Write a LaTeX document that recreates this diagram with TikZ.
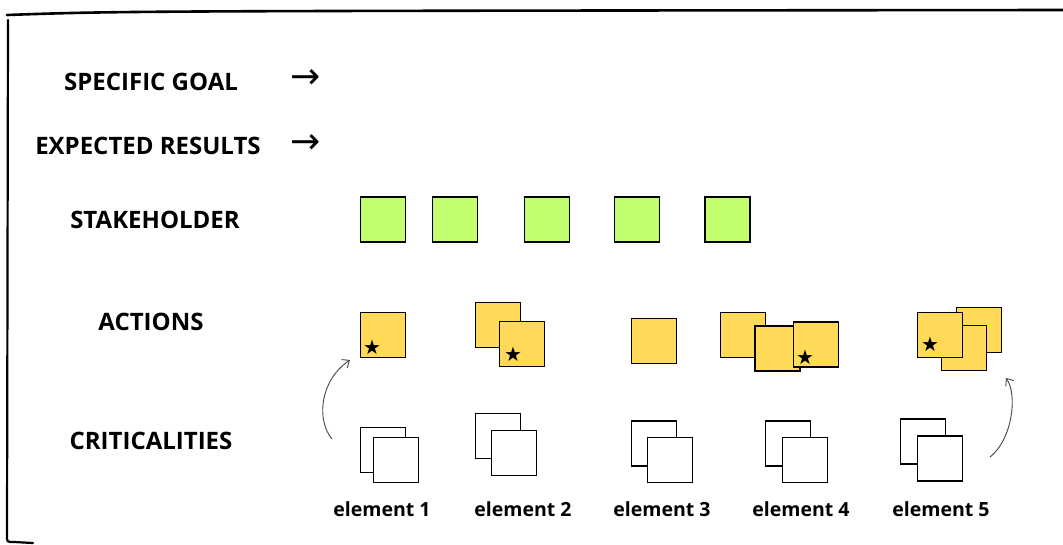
\documentclass[tikz,border=0pt]{standalone}
\usepackage{fontspec}
\setmainfont{Open Sans}
\newfontfamily\symfont{DejaVu Sans}
\usepackage{tikz}
\usetikzlibrary{arrows.meta}
\usepackage{xcolor}
\definecolor{stakegreen}{RGB}{193,255,110}
\definecolor{actyellow}{RGB}{255,218,89}
\definecolor{penline}{RGB}{70,70,70}
\tikzstyle{rowlabel} = [anchor=base, font=\fontsize{24}{28}\selectfont\bfseries]
\tikzstyle{elemlabel} = [anchor=base, font=\fontsize{19.5}{22}\selectfont\bfseries]
\tikzstyle{sq} = [rectangle, draw=black, line width=1.6pt, minimum size=45pt, inner sep=0pt]
\tikzstyle{stakebox} = [sq, fill=stakegreen]
\tikzstyle{actbox} = [sq, fill=actyellow]
\tikzstyle{critbox} = [sq, fill=white]
\tikzstyle{starmark} = [inner sep=0pt, font=\symfont\fontsize{20}{20}\selectfont]
\tikzstyle{pointer} = [inner sep=0pt, font=\symfont\fontsize{36}{36}\selectfont]
\tikzstyle{curvearrow} = [draw=penline, line width=0.9pt, -{Straight Barb[length=6pt,width=10pt]}]

\begin{document}
\begin{tikzpicture}[x=1pt, y=-1pt]

        \useasboundingbox (0,0) rectangle (1063,544);

        % frame
        \draw[line width=2.6pt, line cap=round] (7,15) .. controls (120,11) .. (1063,10);
        \draw[line width=2.2pt, line cap=round] (8,20) -- (7,536) .. controls (7,542) .. (14,542) -- (33,543);

        % row labels
        \node (goal) [rowlabel] at (151,90.7) {SPECIFIC GOAL};
        \node (results) [rowlabel] at (148,154.7) {EXPECTED RESULTS};
        \node (stake) [rowlabel] at (155,228.7) {STAKEHOLDER};
        \node (actions) [rowlabel] at (151,330.7) {ACTIONS};
        \node (crit) [rowlabel] at (151,449.7) {CRITICALITIES};

        \node (goalarrow) [pointer] at (306,79) {→};
        \node (resultsarrow) [pointer] at (306,144) {→};

        % stakeholders
        \node (st1) [stakebox] at (383,219.5) {};
        \node (st2) [stakebox] at (455,219.5) {};
        \node (st3) [stakebox] at (547,219.5) {};
        \node (st4) [stakebox] at (637,219.5) {};
        \node (st5) [stakebox] at (727.5,219.5) {};

        % actions
        \node (act1) [actbox] at (383,335) {};
        \node (star1) [starmark] at (372,347) {★};

        \node (act2a) [actbox] at (498,325) {};
        \node (act2b) [actbox] at (522,344) {};
        \node (star2) [starmark] at (513,354) {★};

        \node (act3) [actbox] at (654,341) {};

        \node (act4a) [actbox] at (743,335) {};
        \node (act4b) [actbox] at (777.5,348.5) {};
        \node (act4c) [actbox] at (816,344.5) {};
        \node (star4) [starmark] at (805,357) {★};

        \node (act5a) [actbox] at (979,330) {};
        \node (act5b) [actbox] at (964,348) {};
        \node (act5c) [actbox] at (940,335) {};
        \node (star5) [starmark] at (930,344) {★};

        % criticalities
        \node (cr1a) [critbox] at (383,450) {};
        \node (cr1b) [critbox] at (396,460) {};
        \node (cr2a) [critbox] at (498,436) {};
        \node (cr2b) [critbox] at (514,453) {};
        \node (cr3a) [critbox] at (654,443.5) {};
        \node (cr3b) [critbox] at (670,460) {};
        \node (cr4a) [critbox] at (788,443.5) {};
        \node (cr4b) [critbox] at (805,460) {};
        \node (cr5a) [critbox] at (923,441.5) {};
        \node (cr5b) [critbox] at (940,458.5) {};

        \node (el1) [elemlabel] at (382,516) {element 1};
        \node (el2) [elemlabel] at (523,516) {element 2};
        \node (el3) [elemlabel] at (662,516) {element 3};
        \node (el4) [elemlabel] at (801,516) {element 4};
        \node (el5) [elemlabel] at (941,516) {element 5};

        % curved pointers
        \coordinate (left0) at (332,439);
        \coordinate (left1) at (350,360);
        \coordinate (right0) at (990,457);
        \coordinate (right1) at (1006,378);

        \draw[curvearrow] (left0) .. controls (316,420) and (320,380) .. (left1);
        \draw[curvearrow] (right0) .. controls (1012,440) and (1018,395) .. (right1);

    \end{tikzpicture}
\end{document}
